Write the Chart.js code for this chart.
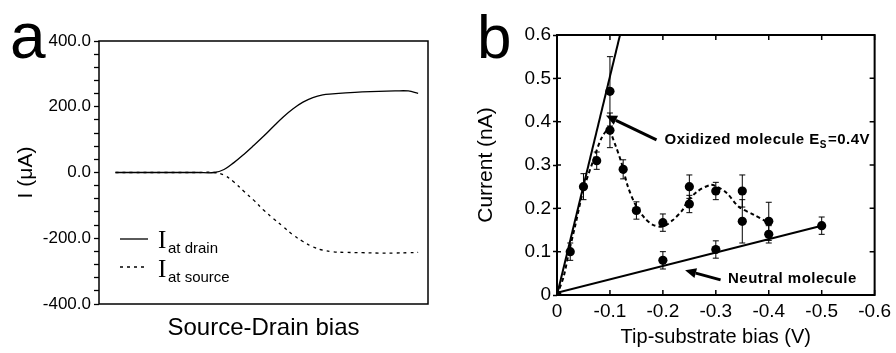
<!DOCTYPE html>
<html><head><meta charset="utf-8">
<script src="https://cdn.jsdelivr.net/npm/chart.js@4.4.0/dist/chart.umd.min.js"></script>
<style>
html,body{margin:0;padding:0;background:#fff;}
#wrap{position:relative;width:896px;height:353px;overflow:hidden;}
.box{position:absolute;top:0;width:448px;height:353px;}
#boxA{left:0;}
#boxB{left:448px;}
</style></head><body>
<div id="wrap">
<div class="box" id="boxA"><canvas id="cA" width="448" height="353"></canvas></div>
<div class="box" id="boxB"><canvas id="cB" width="448" height="353"></canvas></div>
</div>
<script>
// ---------- Panel a ----------
const biasA   = [5, 10, 20, 30, 35, 38, 41, 44, 47, 50, 53, 56, 59, 62, 65, 68, 71, 75, 80, 85, 90, 94, 97];
const drainA  = [0, 0, 0, 0, 0, 9, 30, 55, 82, 110, 140, 169, 194, 214, 228, 236, 239, 242, 245, 247, 248, 248, 241];
const sourceA = [0, 0, 0, 0, 0, -8, -29, -57, -84, -114, -140, -165, -190, -210, -226, -236, -241, -243, -244, -245, -245, -244, -243];
const legendA = ['at drain', 'at source'];

// ---------- Panel b ----------
const oxBias    = [0, -0.025, -0.05, -0.075, -0.1, -0.1, -0.125, -0.15, -0.2, -0.25, -0.25, -0.3, -0.35, -0.35, -0.4];
const oxCurrent = [0, 0.10, 0.25, 0.31, 0.47, 0.38, 0.29, 0.195, 0.167, 0.25, 0.21, 0.24, 0.24, 0.17, 0.17];
const oxErr     = [0, 0.02, 0.03, 0.02, 0.08, 0.04, 0.022, 0.02, 0.02, 0.027, 0.02, 0.02, 0.037, 0.05, 0.044];
const neuBias    = [-0.2, -0.3, -0.4, -0.5];
const neuCurrent = [0.08, 0.105, 0.14, 0.16];
const neuErr     = [0.02, 0.02, 0.02, 0.02];
const fitOxBias = [0, -0.119];
const fitOxCurrent = [0, 0.6];
const fitNeuBias = [0, -0.5];
const fitNeuCurrent = [0.005, 0.16];
const guideBias    = [0, -0.0125, -0.022, -0.034, -0.05, -0.069, -0.084, -0.097, -0.109, -0.122, -0.134, -0.15, -0.166, -0.181, -0.2, -0.219, -0.237, -0.246, -0.265, -0.29, -0.302, -0.321, -0.343, -0.372, -0.396];
const guideCurrent = [0, 0.042, 0.096, 0.158, 0.243, 0.312, 0.362, 0.381, 0.35, 0.304, 0.25, 0.204, 0.177, 0.162, 0.158, 0.173, 0.196, 0.215, 0.239, 0.254, 0.25, 0.235, 0.204, 0.185, 0.169];
const labelOx = ['Oxidized molecule E', 'S', '=0.4V'];
const labelNeu = 'Neutral molecule';

const FONT = 'Liberation Sans, Arial, Helvetica, sans-serif';
const pts = (xs, ys) => xs.map((x, i) => ({x: x, y: ys[i]}));

// ---------- Chart A ----------
const plugA = {
  id: 'plugA',
  afterDraw(chart) {
    const ctx = chart.ctx, ca = chart.chartArea;
    ctx.save();
    ctx.strokeStyle = '#000'; ctx.lineWidth = 1.5;
    ctx.strokeRect(ca.left, ca.top, ca.right - ca.left, ca.bottom - ca.top);
    // legend
    ctx.lineWidth = 1.3;
    ctx.beginPath(); ctx.moveTo(120, 239); ctx.lineTo(148, 239); ctx.stroke();
    ctx.setLineDash([3, 4]);
    ctx.beginPath(); ctx.moveTo(120, 267); ctx.lineTo(148, 267); ctx.stroke();
    ctx.setLineDash([]);
    ctx.fillStyle = '#000';
    ctx.textBaseline = 'alphabetic';
    ctx.font = '25px "Liberation Serif", "Times New Roman", serif';
    ctx.fillText('I', 158, 248);
    ctx.fillText('I', 158, 277);
    ctx.font = '15px ' + FONT;
    ctx.fillText(legendA[0], 168, 253);
    ctx.fillText(legendA[1], 168, 282);
    // panel letter
    ctx.font = '64px ' + FONT;
    ctx.fillText('a', 10, 58);
    ctx.restore();
  }
};

new Chart(document.getElementById('cA'), {
  type: 'scatter',
  data: {
    datasets: [
      {label: 'I at drain', data: pts(biasA, drainA), showLine: true, borderColor: '#000', borderWidth: 1.3, pointRadius: 0, tension: 0.4, fill: false},
      {label: 'I at source', data: pts(biasA, sourceA), showLine: true, borderColor: '#000', borderWidth: 1.3, borderDash: [3, 4], pointRadius: 0, tension: 0.4, fill: false}
    ]
  },
  options: {
    responsive: false, animation: false, devicePixelRatio: 1,
    layout: {padding: {top: 41, right: 20, left: 0, bottom: 0}},
    plugins: {legend: {display: false}, tooltip: {enabled: false}},
    scales: {
      x: {
        type: 'linear', min: 0, max: 100,
        ticks: {display: false},
        grid: {display: false, drawTicks: false},
        border: {display: false},
        title: {display: true, text: 'Source-Drain bias', color: '#000', font: {family: FONT, size: 24}, padding: {top: 0, bottom: 10}},
        afterFit(s) { s.height = 49; }
      },
      y: {
        type: 'linear', min: -400, max: 400,
        ticks: {stepSize: 40, autoSkip: false, color: '#000', padding: 3, font: {family: FONT, size: 17},
          callback: v => (Math.round(v) % 200 === 0 ? Number(v).toFixed(1) : '')},
        grid: {drawOnChartArea: false, drawTicks: true, tickLength: 5, color: '#000', tickWidth: 1.3},
        border: {display: false},
        title: {display: true, text: 'I (μA)', color: '#000', font: {family: FONT, size: 21}, padding: {top: 14, bottom: 0}},
        afterFit(s) { s.width = 99; }
      }
    }
  },
  plugins: [plugA]
});

// ---------- Chart B ----------
function drawArrow(ctx, x1, y1, x2, y2, w) {
  ctx.lineWidth = w;
  const ang = Math.atan2(y2 - y1, x2 - x1);
  const hl = 11, hw = 5;
  const bx = x2 - hl * Math.cos(ang), by = y2 - hl * Math.sin(ang);
  ctx.beginPath(); ctx.moveTo(x1, y1); ctx.lineTo(bx, by); ctx.stroke();
  ctx.beginPath();
  ctx.moveTo(x2, y2);
  ctx.lineTo(bx + hw * Math.sin(ang), by - hw * Math.cos(ang));
  ctx.lineTo(bx - hw * Math.sin(ang), by + hw * Math.cos(ang));
  ctx.closePath(); ctx.fill();
}

const plugB = {
  id: 'plugB',
  beforeDatasetsDraw(chart) {
    const ctx = chart.ctx, xs = chart.scales.x, ys = chart.scales.y;
    ctx.save();
    ctx.strokeStyle = '#000'; ctx.lineWidth = 1;
    const bars = (bx, by, be) => {
      bx.forEach((b, i) => {
        if (!be[i]) return;
        const px = xs.getPixelForValue(b);
        const top = ys.getPixelForValue(by[i] + be[i]);
        const bot = ys.getPixelForValue(by[i] - be[i]);
        ctx.beginPath();
        ctx.moveTo(px, top); ctx.lineTo(px, bot);
        ctx.moveTo(px - 3, top); ctx.lineTo(px + 3, top);
        ctx.moveTo(px - 3, bot); ctx.lineTo(px + 3, bot);
        ctx.stroke();
      });
    };
    bars(oxBias, oxCurrent, oxErr);
    bars(neuBias, neuCurrent, neuErr);
    ctx.restore();
  },
  afterDraw(chart) {
    const ctx = chart.ctx, ca = chart.chartArea, xs = chart.scales.x, ys = chart.scales.y;
    ctx.save();
    ctx.strokeStyle = '#000'; ctx.fillStyle = '#000';
    ctx.lineWidth = 2;
    ctx.strokeRect(ca.left, ca.top, ca.right - ca.left, ca.bottom - ca.top);
    // inward ticks
    ctx.lineWidth = 1.5;
    ctx.beginPath();
    xs.ticks.forEach(t => {
      const px = xs.getPixelForValue(t.value);
      ctx.moveTo(px, ca.bottom); ctx.lineTo(px, ca.bottom - 5);
      ctx.moveTo(px, ca.top); ctx.lineTo(px, ca.top + 5);
    });
    ys.ticks.forEach(t => {
      const py = ys.getPixelForValue(t.value);
      ctx.moveTo(ca.left, py); ctx.lineTo(ca.left + 4, py);
      ctx.moveTo(ca.right, py); ctx.lineTo(ca.right - 5, py);
    });
    ctx.stroke();
    // annotations
    drawArrow(ctx, xs.getPixelForValue(-0.188), ys.getPixelForValue(0.358), xs.getPixelForValue(-0.0925), ys.getPixelForValue(0.414), 3);
    drawArrow(ctx, xs.getPixelForValue(-0.309), ys.getPixelForValue(0.035), xs.getPixelForValue(-0.242), ys.getPixelForValue(0.057), 3);
    ctx.textBaseline = 'middle';
    try { ctx.letterSpacing = '0.5px'; } catch (e) {}
    ctx.font = 'bold 15px ' + FONT;
    let tx = xs.getPixelForValue(-0.203), ty = ys.getPixelForValue(0.357);
    ctx.fillText(labelOx[0], tx, ty);
    tx += ctx.measureText(labelOx[0]).width;
    ctx.font = 'bold 10px ' + FONT;
    ctx.fillText(labelOx[1], tx, ty + 5);
    tx += ctx.measureText(labelOx[1]).width + 1;
    ctx.font = 'bold 15px ' + FONT;
    ctx.fillText(labelOx[2], tx, ty);
    ctx.fillText(labelNeu, xs.getPixelForValue(-0.323), ys.getPixelForValue(0.037));
    try { ctx.letterSpacing = '0px'; } catch (e) {}
    // panel letter
    ctx.textBaseline = 'alphabetic';
    ctx.font = '62px ' + FONT;
    ctx.fillText('b', 29, 58);
    ctx.restore();
  }
};

new Chart(document.getElementById('cB'), {
  type: 'scatter',
  data: {
    datasets: [
      {label: 'fit oxidized', data: pts(fitOxBias, fitOxCurrent), showLine: true, borderColor: '#000', borderWidth: 2, pointRadius: 0, fill: false},
      {label: 'fit neutral', data: pts(fitNeuBias, fitNeuCurrent), showLine: true, borderColor: '#000', borderWidth: 2, pointRadius: 0, fill: false},
      {label: 'guide', data: pts(guideBias, guideCurrent), showLine: true, borderColor: '#000', borderWidth: 2, borderDash: [4, 3], pointRadius: 0, tension: 0.3, fill: false},
      {label: 'oxidized', data: pts(oxBias, oxCurrent), showLine: false, pointRadius: 4.6, pointBackgroundColor: '#000', pointBorderColor: '#000', pointBorderWidth: 0},
      {label: 'neutral', data: pts(neuBias, neuCurrent), showLine: false, pointRadius: 4.6, pointBackgroundColor: '#000', pointBorderColor: '#000', pointBorderWidth: 0}
    ]
  },
  options: {
    responsive: false, animation: false, devicePixelRatio: 1,
    layout: {padding: {top: 35, right: 17, left: 0, bottom: 0}},
    plugins: {legend: {display: false}, tooltip: {enabled: false}},
    scales: {
      x: {
        type: 'linear', min: -0.6, max: 0, reverse: true,
        ticks: {stepSize: 0.1, autoSkip: false, maxRotation: 0, color: '#000', padding: 5, font: {family: FONT, size: 19},
          callback: v => (Math.abs(v) < 1e-9 ? '0' : Number(v).toFixed(1))},
        grid: {display: true, drawOnChartArea: false, drawTicks: false},
        border: {display: false},
        title: {display: true, text: 'Tip-substrate bias (V)', color: '#000', font: {family: FONT, size: 20}, padding: {top: 0, bottom: 4}},
        afterFit(s) { s.height = 58; }
      },
      y: {
        type: 'linear', min: 0, max: 0.6,
        ticks: {stepSize: 0.1, autoSkip: false, color: '#000', padding: 2, font: {family: FONT, size: 19},
          callback: v => (Math.abs(v) < 1e-9 ? '0' : Number(v).toFixed(1))},
        grid: {drawOnChartArea: false, drawTicks: true, tickLength: 4, color: '#000', tickWidth: 1.5},
        border: {display: false},
        title: {display: true, text: 'Current (nA)', color: '#000', font: {family: FONT, size: 21}, padding: {top: 26, bottom: 0}},
        afterFit(s) { s.width = 109; }
      }
    }
  },
  plugins: [plugB]
});
</script>
</body></html>
